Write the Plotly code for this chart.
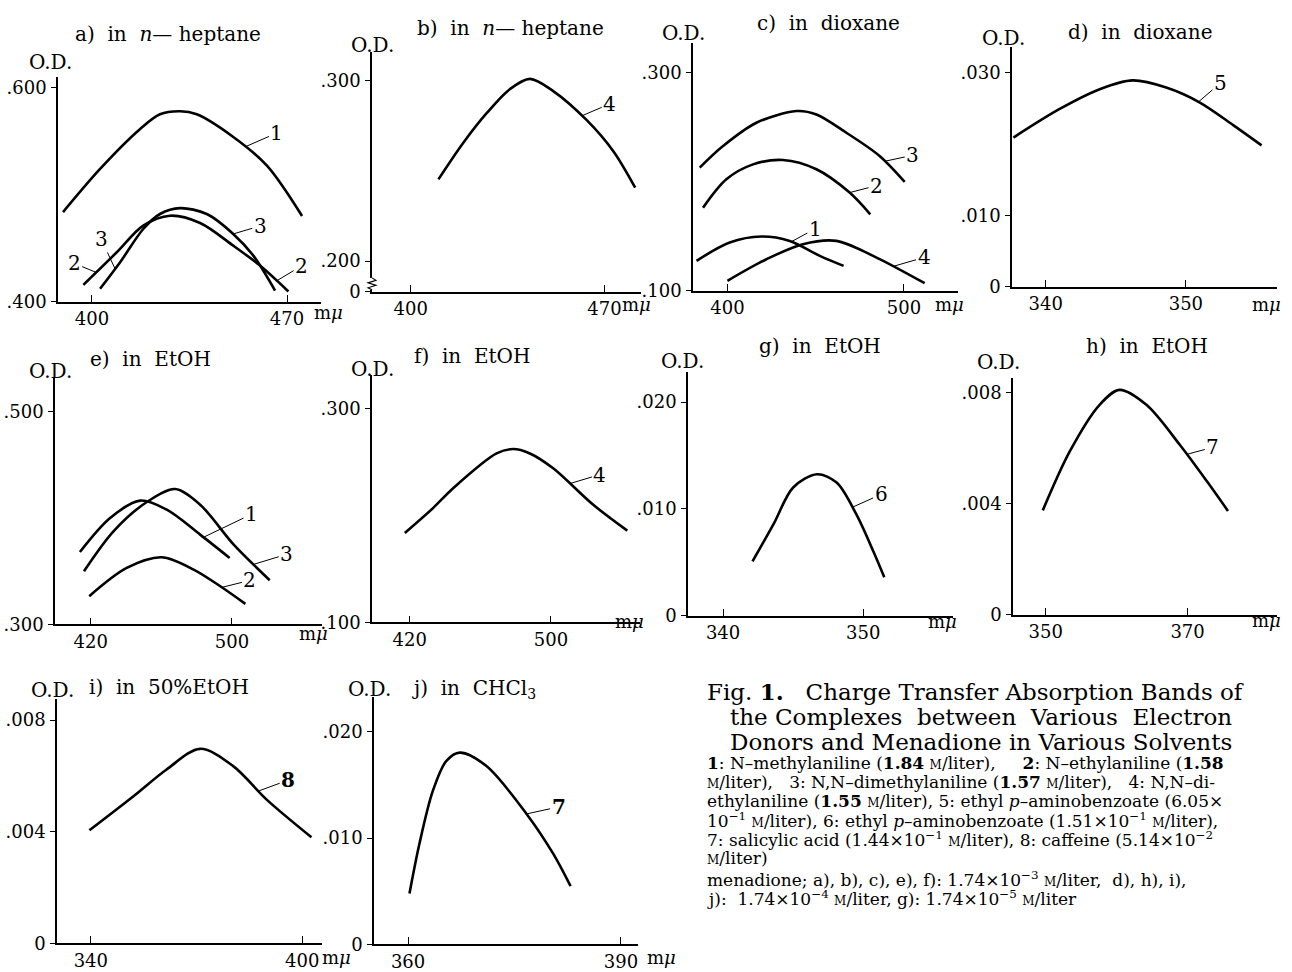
import numpy as np
import plotly.graph_objects as go

# ---------------- data (wavelength in mμ, optical density) ----------------
A1_WL = [389.6, 402.9, 417.2, 424.4, 431.6, 437.6, 450.6, 462.8, 475.4]
A1_OD = [0.4837, 0.524, 0.561, 0.5749, 0.5777, 0.5749, 0.554, 0.527, 0.480]
A2_WL = [396.9, 408.9, 418.4, 428.0, 438.8, 450.7, 460.3, 470.5]
A2_OD = [0.4158, 0.4462, 0.471, 0.4803, 0.4735, 0.4524, 0.4338, 0.4096]
A3_WL = [402.9, 410.1, 418.4, 424.4, 431.6, 441.2, 450.7, 457.9, 465.7]
A3_OD = [0.4121, 0.4369, 0.4679, 0.4819, 0.4874, 0.4819, 0.4633, 0.4431, 0.4105]

B4_WL = [410.0, 419.0, 427.5, 435.9, 443.1, 451.6, 463.6, 473.2, 481.1]
B4_OD = [0.2453, 0.2656, 0.2821, 0.2954, 0.301, 0.2941, 0.2781, 0.2609, 0.2407]

C1_WL = [382.5, 401.3, 419.2, 435.3, 452.3, 465.8]
C1_OD = [0.1275, 0.1443, 0.1498, 0.1458, 0.1321, 0.1229]
C2_WL = [386.2, 399.4, 414.5, 431.5, 450.4, 469.2, 480.9]
C2_OD = [0.1763, 0.2023, 0.2160, 0.2200, 0.2115, 0.1901, 0.1702]
C3_WL = [384.3, 397.5, 416.4, 439.1, 450.4, 467.4, 486.2, 500.4]
C3_OD = [0.213, 0.2328, 0.2542, 0.2649, 0.2618, 0.245, 0.2237, 0.1999]
C4_WL = [400.0, 422.1, 442.8, 461.7, 482.5, 511.7]
C4_OD = [0.1092, 0.129, 0.1428, 0.1458, 0.1321, 0.107]

D5_WL = [337.7, 341.0, 343.9, 346.2, 348.6, 351.0, 353.4, 355.4]
D5_OD = [0.0209, 0.0249, 0.0277, 0.0289, 0.0279, 0.0258, 0.0226, 0.0198]

E1_WL = [413.9, 431.0, 448.0, 463.1, 482.0, 498.7]
E1_OD = [0.3681, 0.400, 0.4163, 0.4078, 0.3844, 0.3625]
E2_WL = [419.2, 440.4, 460.3, 478.3, 493.4, 507.6]
E2_OD = [0.3266, 0.3531, 0.3631, 0.3516, 0.3359, 0.3194]
E3_WL = [416.2, 432.9, 451.8, 467.8, 482.0, 501.0, 521.4]
E3_OD = [0.350, 0.3875, 0.415, 0.4272, 0.4125, 0.375, 0.3416]

F4_WL = [417.2, 433.2, 444.6, 469.2, 478.6, 488.1, 501.3, 524.0, 543.3]
F4_OD = [0.1837, 0.207, 0.2256, 0.2581, 0.2622, 0.2581, 0.2442, 0.2101, 0.1859]

G6_WL = [342.1, 343.6, 345.0, 346.7, 348.1, 349.5, 350.7, 351.5]
G6_OD = [0.00508, 0.00857, 0.0120, 0.01324, 0.01246, 0.0095, 0.00607, 0.00358]

H7_WL = [349.6, 353.4, 357.6, 360.4, 364.2, 368.9, 372.7, 375.7]
H7_OD = [0.003755, 0.00588, 0.00756, 0.0081, 0.00756, 0.00612, 0.00481, 0.00373]

I8_WL = [339.6, 352.1, 361.5, 371.0, 380.4, 389.9, 402.6]
I8_OD = [0.00405, 0.00527, 0.00623, 0.00697, 0.00635, 0.00515, 0.0038]

J7_WL = [360.2, 361.6, 363.5, 365.4, 367.3, 371.0, 376.7, 380.45, 382.9]
J7_OD = [0.00478, 0.00947, 0.01447, 0.01728, 0.01806, 0.01681, 0.01228, 0.00853, 0.00547]

# titles
TITLES = ["a)\u00a0 in\u00a0 <i>n</i>\u2014 heptane", "b)\u00a0 in\u00a0 <i>n</i>\u2014 heptane",
          "c)\u00a0 in\u00a0 dioxane", "d)\u00a0 in\u00a0 dioxane",
          "e)\u00a0 in\u00a0 EtOH", "f)\u00a0 in\u00a0 EtOH", "g)\u00a0 in\u00a0 EtOH", "h)\u00a0 in\u00a0 EtOH",
          "i)\u00a0 in\u00a0 50%EtOH", "j)\u00a0 in\u00a0 CHCl<sub>3</sub>"]

# ---------------- layout helpers ----------------
W, H = 1292, 972
YS = 1.0095  # small vertical correction
def PX(x): return x / W
def PY(y): return max(0.0, 1 - y * YS / H)

SERIF = "DejaVu Serif, Liberation Serif, serif"
TICKF = dict(family=SERIF, size=18, color="black")
LABF = dict(family=SERIF, size=20, color="black")

M = "<span style='font-size:12px'>M</span>"

panels = [
    dict(box=(58, 321, 77, 303), xr=[387.8, 482.2], yr=[0.4, 0.610],
         xt=[400, 470], yt=[0.4, 0.6], ytt=[".400", ".600"],
         curves=[(A1_WL, A1_OD), (A2_WL, A2_OD), (A3_WL, A3_OD)],
         labels=[("1", 0, 454.9, 32, -14), ("2", 1, 401.5, -22, -9), ("3", 2, 408.3, -14, -30),
                 ("3", 2, 450.7, 27, -8), ("2", 1, 466.3, 25, -15)],
         title=(168, 34), od=(50, 62), mu=(328, 314)),
    dict(box=(372, 641, 52, 293), xr=[386.0, 483.2], yr=[0.183, 0.316],
         xt=[400, 470], yt=[0.183, 0.2, 0.3], ytt=["0", ".200", ".300"],
         curves=[(B4_WL, B4_OD)],
         labels=[("4", 0, 461.8, 28, -12)],
         title=(510, 28), od=(372, 45), mu=(636, 306)),
    dict(box=(693, 958, 43, 292), xr=[380.5, 530.6], yr=[0.1, 0.3275],
         xt=[400, 500], yt=[0.1, 0.3], ytt=[".100", ".300"],
         curves=[(C1_WL, C1_OD), (C2_WL, C2_OD), (C3_WL, C3_OD), (C4_WL, C4_OD)],
         labels=[("3", 2, 489.1, 28, -6), ("2", 1, 469.2, 27, -7), ("1", 0, 436.2, 24, -13),
                 ("4", 3, 493.8, 31, -9)],
         title=(828, 23), od=(683, 33), mu=(949, 306)),
    dict(box=(1012, 1277, 47, 288), xr=[337.6, 356.5], yr=[0, 0.0336],
         xt=[340, 350], yt=[0, 0.01, 0.03], ytt=["0", ".010", ".030"],
         curves=[(D5_WL, D5_OD)],
         labels=[("5", 0, 350.9, 22, -19)],
         title=(1140, 32), od=(1003, 38), mu=(1266, 306)),
    dict(box=(55, 322, 380, 627), xr=[399.8, 551.0], yr=[0.3, 0.531],
         xt=[420, 500], yt=[0.3, 0.5], ytt=[".300", ".500"],
         curves=[(E1_WL, E1_OD), (E2_WL, E2_OD), (E3_WL, E3_OD)],
         labels=[("1", 0, 483.9, 48, -23), ("3", 2, 512.3, 33, -10), ("2", 1, 494.3, 28, -7)],
         title=(150, 360), od=(50, 372), mu=(313, 636)),
    dict(box=(372, 640, 377, 625), xr=[398.6, 550.5], yr=[0.1, 0.331],
         xt=[420, 500], yt=[0.1, 0.3], ytt=[".100", ".300"],
         curves=[(F4_WL, F4_OD)],
         labels=[("4", 0, 510.8, 30, -9)],
         title=(472, 357), od=(372, 370), mu=(629, 624)),
    dict(box=(688, 953, 373, 618), xr=[337.5, 356.4], yr=[0, 0.02287],
         xt=[340, 350], yt=[0, 0.01, 0.02], ytt=["0", ".010", ".020"],
         curves=[(G6_WL, G6_OD)],
         labels=[("6", 0, 349.2, 29, -13)],
         title=(820, 347), od=(682, 362), mu=(942, 624)),
    dict(box=(1013, 1277, 380, 617), xr=[345.4, 382.6], yr=[0, 0.00851],
         xt=[350, 370], yt=[0, 0.004, 0.008], ytt=["0", ".004", ".008"],
         curves=[(H7_WL, H7_OD)],
         labels=[("7", 0, 369.9, 26, -7)],
         title=(1147, 347), od=(998, 363), mu=(1266, 623)),
    dict(box=(57, 322, 702, 947), xr=[330.4, 405.6], yr=[0, 0.00875],
         xt=[340, 400], yt=[0, 0.004, 0.008], ytt=["0", ".004", ".008"],
         curves=[(I8_WL, I8_OD)],
         labels=[("<b>8</b>", 0, 387.5, 30, -11)],
         title=(169, 690), od=(52, 693), mu=(336, 961)),
    dict(box=(374, 638, 700, 948), xr=[355.2, 392.4], yr=[0, 0.02328],
         xt=[360, 390], yt=[0, 0.01, 0.02], ytt=["0", ".010", ".020"],
         curves=[(J7_WL, J7_OD)],
         labels=[("<b>7</b>", 0, 376.7, 32, -7)],
         title=(474, 692), od=(369, 692), mu=(661, 961)),
]

fig = go.Figure()
annotations = []
layout_axes = {}

for i, (p, title) in enumerate(zip(panels, TITLES), start=1):
    sfx = "" if i == 1 else str(i)
    xa, ya = "x" + sfx, "y" + sfx
    for xs, ys in p["curves"]:
        fig.add_trace(go.Scatter(x=xs, y=ys, xaxis=xa, yaxis=ya, mode="lines",
                                 line=dict(color="black", width=2.6, shape="spline", smoothing=0.9),
                                 showlegend=False, hoverinfo="skip"))
    l, r, t, b = p["box"]
    layout_axes["xaxis" + sfx] = dict(
        domain=[PX(l), PX(r)], range=p["xr"], anchor=ya, showline=True, linecolor="black",
        linewidth=1.6, ticks="inside", ticklen=7, tickwidth=1.2, tickcolor="black",
        tickvals=p["xt"], ticktext=[str(v) for v in p["xt"]], showgrid=False, zeroline=False,
        tickfont=TICKF, fixedrange=True)
    layout_axes["yaxis" + sfx] = dict(
        domain=[PY(b), PY(t)], range=p["yr"], anchor=xa, showline=True, linecolor="black",
        linewidth=1.6, ticks="outside", ticklen=5, tickwidth=1.2, tickcolor="black",
        tickvals=p["yt"], ticktext=p["ytt"], showgrid=False, zeroline=False,
        tickfont=TICKF, fixedrange=True, ticklabelstandoff=1)
    # curve number labels with leader lines
    for txt, ci, xv, ax, ay in p["labels"]:
        cx, cy = p["curves"][ci]
        yv = float(np.interp(xv, cx, cy))
        annotations.append(dict(x=xv, y=yv, xref=xa, yref=ya, text=txt, showarrow=True,
                                arrowhead=0, arrowwidth=1, arrowcolor="black", ax=ax, ay=ay,
                                standoff=0, font=LABF))
    annotations.append(dict(x=PX(p["title"][0]), y=PY(p["title"][1]), xref="paper", yref="paper",
                            text=title, showarrow=False, font=dict(family=SERIF, size=20, color="black"),
                            xanchor="center", yanchor="middle"))
    annotations.append(dict(x=PX(p["od"][0]), y=PY(p["od"][1]), xref="paper", yref="paper",
                            text="O.D.", showarrow=False, font=dict(family=SERIF, size=20, color="black"),
                            xanchor="center", yanchor="middle"))
    annotations.append(dict(x=PX(p["mu"][0]), y=PY(p["mu"][1]), xref="paper", yref="paper",
                            text="m<i>\u03bc</i>", showarrow=False, font=dict(family=SERIF, size=18, color="black"),
                            xanchor="center", yanchor="middle"))

# axis-break squiggle on panel b's y axis
zz = [(372, 279), (376, 281.5), (368, 284), (376, 286.5), (368, 289), (372, 291)]
path = "M " + " L ".join(f"{PX(x):.5f},{PY(y):.5f}" for x, y in zz)
shapes = [
    dict(type="rect", xref="paper", yref="paper", x0=PX(370), x1=PX(374), y0=PY(291), y1=PY(279),
         fillcolor="white", line=dict(width=0), layer="above"),
    dict(type="path", xref="paper", yref="paper", path=path, line=dict(color="black", width=1.1),
         layer="above"),
]

# caption
CAP_MAIN = ["Fig. <b>1.</b>\u00a0\u00a0 Charge Transfer Absorption Bands of",
            "the Complexes\u00a0 between\u00a0 Various\u00a0 Electron",
            "Donors and Menadione in Various Solvents"]
CAP_MAIN_POS = [(705, 694), (728, 720), (728, 745)]
for txt, (x, y) in zip(CAP_MAIN, CAP_MAIN_POS):
    annotations.append(dict(x=PX(x), y=PY(y), xref="paper", yref="paper", text=txt, showarrow=False,
                            font=dict(family=SERIF, size=23, color="black"), xanchor="left", yanchor="middle"))

CAP_NOTE = [
    "<b>1</b>: N\u2013methylaniline (<b>1.84</b> " + M + "/liter),\u00a0\u00a0\u00a0\u00a0 <b>2</b>: N\u2013ethylaniline (<b>1.58</b>",
    M + "/liter),\u00a0\u00a0 3: N,N\u2013dimethylaniline (<b>1.57</b> " + M + "/liter),\u00a0\u00a0 4: N,N\u2013di-",
    "ethylaniline (<b>1.55</b> " + M + "/liter), 5: ethyl <i>p</i>\u2013aminobenzoate (6.05\u00d7",
    "10<sup>\u22121</sup> " + M + "/liter), 6: ethyl <i>p</i>\u2013aminobenzoate (1.51\u00d710<sup>\u22121</sup> " + M + "/liter),",
    "7: salicylic acid (1.44\u00d710<sup>\u22121</sup> " + M + "/liter), 8: caffeine (5.14\u00d710<sup>\u22122</sup>",
    M + "/liter)",
    "menadione; a), b), c), e), f): 1.74\u00d710<sup>\u22123</sup> " + M + "/liter,\u00a0 d), h), i),",
    "j):\u00a0 1.74\u00d710<sup>\u22124</sup> " + M + "/liter, g): 1.74\u00d710<sup>\u22125</sup> " + M + "/liter",
]
CAP_NOTE_Y = [766, 785, 804, 823, 842, 861, 883, 902]
for txt, y in zip(CAP_NOTE, CAP_NOTE_Y):
    annotations.append(dict(x=PX(705), y=PY(y), xref="paper", yref="paper", text=txt, showarrow=False,
                            font=dict(family=SERIF, size=17, color="black"), xanchor="left", yanchor="middle"))

fig.update_layout(width=W, height=H, autosize=False, margin=dict(l=0, r=0, t=0, b=0),
                  paper_bgcolor="white", plot_bgcolor="white",
                  annotations=annotations, shapes=shapes, **layout_axes)

fig.write_html("out.html", config={"displayModeBar": False},
               post_script="document.body.style.margin='0';"
                           "document.body.style.overflow='hidden';"
                           "document.documentElement.style.overflow='hidden';"
                           "var gd=document.getElementById('{plot_id}');"
                           "gd.style.position='fixed';gd.style.top='0px';gd.style.left='0px';")
